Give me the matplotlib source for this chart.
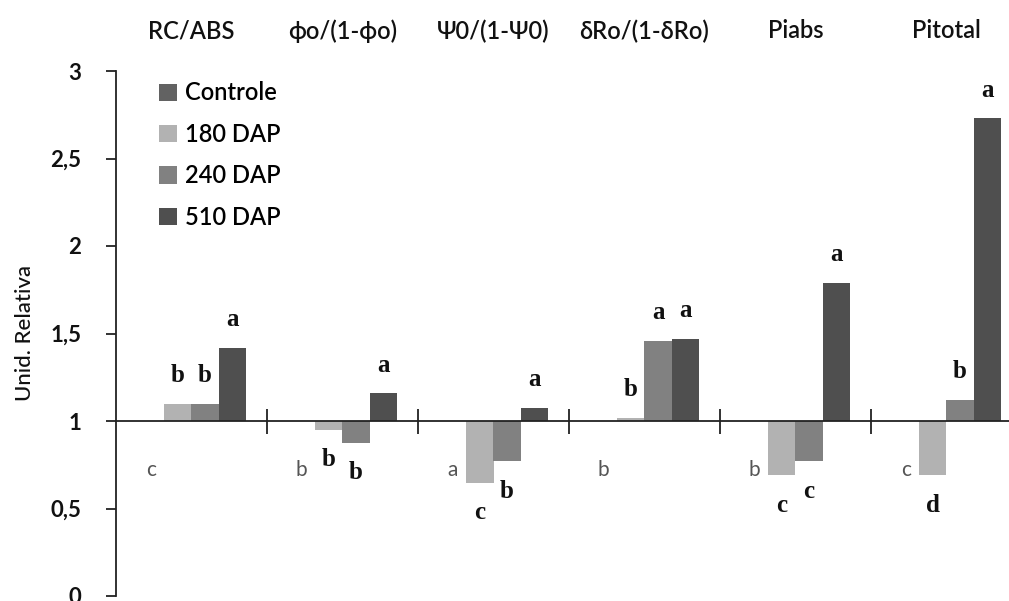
import matplotlib
matplotlib.use("Agg")
import matplotlib.pyplot as plt
import numpy as np

plt.rcParams['font.family'] = ['Lato', 'DejaVu Sans']

categorias = ["RC/ABS", "\u03d5o/(1-\u03d5o)", "\u03a80/(1-\u03a80)",
              "\u03b4Ro/(1-\u03b4Ro)", "Piabs", "Pitotal"]
series = ["Controle", "180 DAP", "240 DAP", "510 DAP"]
cores = ["#626262", "#b2b2b2", "#818181", "#4f4f4f"]

controle = [1.0, 1.0, 1.0, 1.0, 1.0, 1.0]
dap180 = [1.10, 0.95, 0.645, 1.02, 0.69, 0.69]
dap240 = [1.10, 0.875, 0.77, 1.46, 0.77, 1.12]
dap510 = [1.42, 1.16, 1.075, 1.47, 1.79, 2.73]

letras_controle = ["c", "b", "a", "b", "b", "c"]
letras_180 = ["b", "b", "c", "b", "c", "d"]
letras_240 = ["b", "b", "b", "a", "c", "b"]
letras_510 = ["a", "a", "a", "a", "a", "a"]

valores = [controle, dap180, dap240, dap510]
letras = [letras_controle, letras_180, letras_240, letras_510]

fig = plt.figure(figsize=(10.09, 6.01), dpi=100)
ax = fig.add_axes([116 / 1009, 5 / 601, (1022 - 116) / 1009, 525 / 601])

x = np.arange(len(categorias)) + 0.5
largura = 0.18
offsets = (np.arange(4) - 1.5) * largura

for vals, cor, nome, off, lets in zip(valores, cores, series, offsets, letras):
    vals = np.array(vals)
    ax.bar(x + off, vals - 1, bottom=1, width=largura, color=cor, label=nome)
    for xi, v, l in zip(x + off, vals, lets):
        if nome == "Controle":
            ax.text(xi, 0.72, l, ha='center', va='center', fontsize=15,
                    color='#555555', family=['Lato', 'DejaVu Sans'])
        elif v >= 1:
            ax.text(xi, v + 0.16, l, ha='center', va='center', fontsize=18,
                    fontweight='bold', family='Liberation Serif', color='#111111')
        else:
            ax.text(xi, v - 0.17, l, ha='center', va='center', fontsize=18,
                    fontweight='bold', family='Liberation Serif', color='#111111')

# eixo x cruzando em 1, com marcas entre os grupos
ax.spines['bottom'].set_position(('data', 1))
ax.spines['top'].set_visible(False)
ax.spines['right'].set_visible(False)
ax.spines['left'].set_color('#222222')
ax.spines['bottom'].set_color('#222222')
ax.spines['left'].set_linewidth(1.3)
ax.spines['bottom'].set_linewidth(1.3)
ax.set_xlim(0, 6)
ax.set_ylim(0, 3)
ax.set_xticks(np.arange(1, 6))
ax.set_xticklabels([])
ax.tick_params(axis='x', direction='inout', length=18, width=1.3, color='#222222')
ax.set_yticks([0, 0.5, 1, 1.5, 2, 2.5, 3])
ax.set_yticklabels(["0", "0,5", "1", "1,5", "2", "2,5", "3"],
                   fontsize=16, fontweight='bold', color='#111111')
ax.tick_params(axis='y', direction='out', length=7, width=1.3, color='#222222', pad=18)

for xi, cat in zip(x, categorias):
    fig.text((116 + (xi / 6) * (1022 - 116)) / 1009, 1 - 31 / 601, cat,
             ha='center', va='center', fontsize=17, fontweight='semibold',
             color='#111111')

fig.text(25 / 1009, 1 - 333 / 601, "Unid. Relativa", rotation=90,
         ha='center', va='center', fontsize=16, fontweight='medium',
         color='#111111')

ax.legend(loc='upper left', bbox_to_anchor=(150 / 1009, 1 - 72 / 601),
          bbox_transform=fig.transFigure, frameon=False,
          prop={'size': 17, 'weight': 'semibold'},
          handlelength=0.75, handleheight=0.75, handletextpad=0.35,
          labelspacing=0.78, borderaxespad=0)

fig.savefig("out.png", dpi=100)
